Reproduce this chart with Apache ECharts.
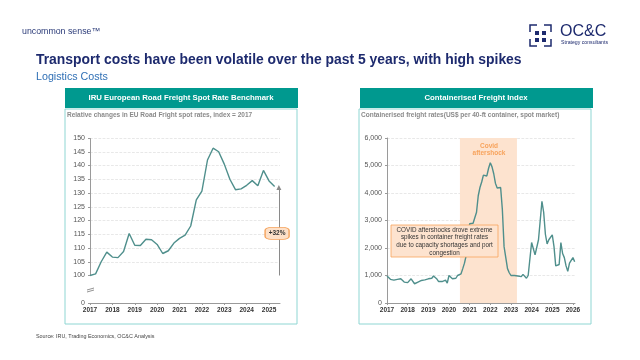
<!DOCTYPE html>
<html>
<head>
<meta charset="utf-8">
<script src="https://cdn.jsdelivr.net/npm/echarts@6/dist/echarts.min.js"></script>
<style>
  html, body { margin: 0; padding: 0; background: #fff; }
  #chart { width: 640px; height: 360px; }
</style>
</head>
<body>
<div id="chart"></div>
<script>
// road freight index, one value per quarter from 2017
const roadStart = 2017;
const roadValues = [
  100, 100.6, 105, 108.5, 106.7, 106.5, 108.7, 115.3, 111, 110.9, 113.2, 113,
  111.3, 108, 109, 111.8, 113.5, 114.7, 118, 127.5, 130.7, 142, 146.3, 145,
  140.5, 135, 131.2, 131.5, 132.8, 134.5, 132.6, 138.2, 134.4, 132.4
];
const roadGain = 132;

// container freight, one value per month from 2017
const boxStart = 2017;
const boxValues = [
  980, 930, 860, 800, 830, 890, 860, 900, 880, 820, 760, 790,
  740, 800, 880, 860, 700, 680, 760, 800, 820, 800, 840, 900,
  880, 950, 900, 980, 980, 870, 780, 790, 780, 790, 830, 720,
  1000, 950, 880, 850, 900, 1000, 1020, 1060, 1250, 1450, 1520, 2000,
  2880, 2880, 2900, 3100, 3300, 3900, 4200, 4400, 4650, 4620, 4620, 4900,
  5100, 4950, 4700, 4350, 4180, 4220, 4200, 3400, 2050, 1650, 1250, 1100,
  1000, 930, 1000, 1010, 980, 1000, 960, 1040, 1020, 900, 1000, 1040,
  2200, 2200, 1750, 1800, 2300, 3000, 3700, 3300, 2500, 2150, 2300, 2350,
  2480, 2050, 1350, 1400, 1400, 2200, 1800, 1650, 1350, 1150, 1450, 1400,
  1650, 1500
];
const covidBand = [2020.53, 2023.29];

const font = "Liberation Sans";
const teal = "#00998f";
const frame = "#8fd6d3";
const lineColor = "#4f8f8c";
const navy = "#1d2a6e";

function withYears(values, start, perYear) {
  return values.map((v, i) => [start + i / perYear, v]);
}

function box(x, y, w, h, fill, stroke, lw) {
  return { type: "rect", silent: true, shape: { x: x, y: y, width: w, height: h },
    style: { fill: fill, stroke: stroke, lineWidth: lw || 0 } };
}

function txt(x, y, text, size, color, weight, align) {
  return { type: "text", silent: true, x: x, y: y, z: 20,
    style: { text: text, fontFamily: font, fontSize: size, fill: color,
      fontWeight: weight || "normal", align: align || "left", verticalAlign: "middle" } };
}

const chart = echarts.init(document.getElementById("chart"));

const xLabels = {
  fontFamily: font, fontSize: 6.5, fontWeight: "bold", color: "#333",
  margin: 4, showMaxLabel: false, hideOverlap: false,
  formatter: (v) => String(Math.round(v))
};
const yLabels = { fontFamily: font, fontSize: 7, color: "#555", margin: 5 };
const axisLine = { show: true, lineStyle: { color: "#9a9a9a", width: 1 } };
const axisTick = { show: true, length: 2, lineStyle: { color: "#9a9a9a" } };
const dashed = { show: true, lineStyle: { color: "#dedede", type: "dashed", width: 0.7 } };

const option = {
  animation: false,
  backgroundColor: "#fff",
  grid: [
    { left: 90, right: 360, top: 138, height: 165 },
    { left: 387, right: 65, top: 138, height: 165 }
  ],
  xAxis: [
    { type: "value", gridIndex: 0, min: 2017, max: 2025.49, interval: 1,
      axisLabel: xLabels, axisLine: axisLine, axisTick: axisTick, splitLine: { show: false } },
    { type: "value", gridIndex: 1, min: 2017, max: 2026.1, interval: 1,
      axisLabel: xLabels, axisLine: axisLine, axisTick: axisTick, splitLine: { show: false } }
  ],
  yAxis: [
    { type: "value", gridIndex: 0, min: 0, max: 150, interval: 5,
      breaks: [{ start: 0, end: 100, gap: 10 }],
      breakArea: { show: true, expandOnClick: false, zigzagAmplitude: 0,
        itemStyle: { opacity: 0, borderWidth: 0, borderColor: "transparent", color: "transparent" } },
      axisLabel: yLabels, axisLine: axisLine, axisTick: axisTick, splitLine: dashed },
    { type: "value", gridIndex: 1, min: 0, max: 6000, interval: 1000,
      axisLabel: Object.assign({}, yLabels, { formatter: (v) => v.toLocaleString("en-US") }),
      axisLine: axisLine, axisTick: axisTick, splitLine: dashed }
  ],
  series: [
    {
      type: "line", xAxisIndex: 0, yAxisIndex: 0, symbol: "none", clip: false,
      data: withYears(roadValues, roadStart, 4),
      lineStyle: { color: lineColor, width: 1.4 },
      markLine: {
        silent: true, symbol: ["none", "triangle"], symbolSize: 5,
        label: { show: false },
        lineStyle: { color: "#8a8a8a", width: 1, type: "solid" },
        data: [[{ coord: [2025.44, 100] }, { coord: [2025.44, roadGain] }]]
      },
      markPoint: {
        silent: true, symbol: "roundRect", symbolSize: [24, 12],
        itemStyle: { color: "#fde0c8", borderColor: "#f5a35c", borderWidth: 1 },
        label: { show: true, formatter: "+32%", fontFamily: font, fontSize: 6.5, fontWeight: "bold", color: "#333" },
        data: [{ coord: [2025.36, 115.3] }]
      }
    },
    {
      type: "line", xAxisIndex: 1, yAxisIndex: 1, symbol: "none",
      data: withYears(boxValues, boxStart, 12),
      lineStyle: { color: lineColor, width: 1.4 },
      z: 5,
      markArea: {
        silent: true,
        itemStyle: { color: "#fde3cf" },
        data: [[{ xAxis: covidBand[0], yAxis: 0 }, { xAxis: covidBand[1], yAxis: 6000 }]]
      }
    }
  ],
  graphic: [
    txt(22, 32, "uncommon sense\u2122", 8.8, "#2a3a78"),
    txt(36, 60, "Transport costs have been volatile over the past 5 years, with high spikes", 13.9, navy, "bold"),
    txt(36, 77, "Logistics Costs", 10.7, "#2f6fb5"),

    // logo
    { type: "polyline", silent: true, shape: { points: [[537, 25], [530, 25], [530, 32]] }, style: { stroke: navy, fill: null, lineWidth: 1.5 } },
    { type: "polyline", silent: true, shape: { points: [[544, 25], [551, 25], [551, 32]] }, style: { stroke: navy, fill: null, lineWidth: 1.5 } },
    { type: "polyline", silent: true, shape: { points: [[530, 39], [530, 46], [537, 46]] }, style: { stroke: navy, fill: null, lineWidth: 1.5 } },
    { type: "polyline", silent: true, shape: { points: [[551, 39], [551, 46], [544, 46]] }, style: { stroke: navy, fill: null, lineWidth: 1.5 } },
    box(535, 31, 4, 4, navy), box(542, 31, 4, 4, navy),
    box(535, 38, 4, 4, navy), box(542, 38, 4, 4, navy),
    txt(560, 32, "OC&C", 16, navy),
    txt(561, 43, "Strategy consultants", 5.2, navy),

    // panels
    Object.assign(box(65, 109, 232, 215, "none", frame, 1), { z: -1 }),
    box(65, 88, 233, 20, teal),
    txt(181, 98, "IRU European Road Freight Spot Rate Benchmark", 7.8, "#fff", "bold", "center"),
    txt(67, 115, "Relative changes in EU Road Fright spot rates, index = 2017", 6.5, "#8a8a8a", "bold"),

    Object.assign(box(359, 109, 232, 215, "none", frame, 1), { z: -1 }),
    box(360, 88, 233, 20, teal),
    txt(476, 98, "Containerised Freight Index", 7.8, "#fff", "bold", "center"),
    txt(361, 115, "Containerised freight rates(US$ per 40-ft container, spot market)", 6.5, "#8a8a8a", "bold"),

    // axis break mark
    { type: "line", silent: true, z: 20, shape: { x1: 87, y1: 290, x2: 94, y2: 288 }, style: { stroke: "#777", lineWidth: 0.8 } },
    { type: "line", silent: true, z: 20, shape: { x1: 87, y1: 292, x2: 94, y2: 290 }, style: { stroke: "#777", lineWidth: 0.8 } },

    // covid notes
    txt(489, 146, "Covid", 6.5, "#f7a35c", "bold", "center"),
    txt(489, 153, "aftershock", 6.5, "#f7a35c", "bold", "center"),
    Object.assign(box(391, 225, 107, 32, "#fde3cf", "#f7a35c", 0.8), { z: 19 }),
    txt(444.5, 230, "COVID aftershocks drove extreme", 6.3, "#333", "normal", "center"),
    txt(444.5, 237, "spikes in container freight rates", 6.3, "#333", "normal", "center"),
    txt(444.5, 245, "due to capacity shortages and port", 6.3, "#333", "normal", "center"),
    txt(444.5, 253, "congestion", 6.3, "#333", "normal", "center"),

    txt(36, 337, "Source: IRU, Trading Economics, OC&C Analysis", 5.4, "#444")
  ]
};
chart.setOption(option);
</script>
</body>
</html>
